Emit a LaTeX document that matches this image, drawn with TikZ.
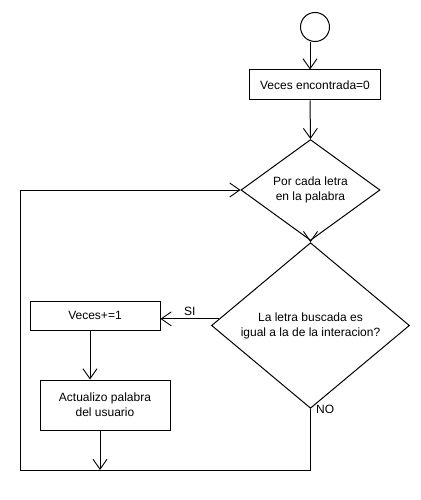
\documentclass[tikz,border=0pt]{standalone}
\usepackage{fontspec}
\setmainfont{Liberation Sans}
\usetikzlibrary{shapes.geometric,arrows.meta,calc}
\begin{document}
\begin{tikzpicture}[x=1pt,y=-1pt,
  every node/.style={font=\fontsize{12}{15}\selectfont, text=black},
  line/.style={draw=black, line width=1pt},
  arr/.style={line, -{Straight Barb[length=10pt,width=14pt,line width=0.9pt]}},
  procbox/.style={draw=black, line width=1pt, rectangle, inner sep=0pt, align=center},
  decision/.style={draw=black, line width=1pt, diamond, inner sep=0pt, align=center},
  startcirc/.style={draw=black, line width=1pt, circle, inner sep=0pt, minimum size=29pt}
]
\useasboundingbox (0,0) rectangle (420,500);
\node[startcirc] (start) at (315,27) {};
\node[procbox, minimum width=131pt, minimum height=30pt] (init) at (315,85) {Veces encontrada=0};
\node[decision, minimum width=139pt, minimum height=96pt] (loop) at (310.5,190) {Por cada letra\\en la palabra};
\node[decision, minimum width=198pt, minimum height=127pt] (cond) at (310.5,325.5) {La letra buscada es\\igual a la de la interacion?};
\node[procbox, minimum width=130pt, minimum height=29pt] (inc) at (95,315.5) {Veces+=1};
\node[procbox, minimum width=130pt, minimum height=50pt] (upd) at (105,405) {Actualizo palabra\\del usuario};
\coordinate (bl) at (20,470);
\coordinate (br) at (310.5,470);
\coordinate (tl) at (20,190);
\coordinate (siout) at ($(cond.west)!0.08!(cond.north)$);
\coordinate (topx) at ([xshift=-5pt]start.south);
\coordinate (incx) at ([xshift=-5pt]inc.south);
\coordinate (updx) at ([xshift=-5pt]upd.south);

\draw[arr] (topx) -- (topx |- init.north);
\draw[arr] (topx |- init.south) -- (loop.north);
\draw[arr] (loop.south) -- (cond.north);
\draw[arr] (siout) -- (siout -| inc.east) node[midway, above=-1pt] {SI};
\draw[arr] (incx) -- (incx |- upd.north);
\draw[arr] (updx) -- (updx |- bl);
\draw[line] (cond.south) -- (br) -- (bl) -- (tl);
\draw[arr] (tl) -- (loop.west);
\node[anchor=west, inner sep=0pt] (nolbl) at (316,409) {NO};
\end{tikzpicture}
\end{document}
